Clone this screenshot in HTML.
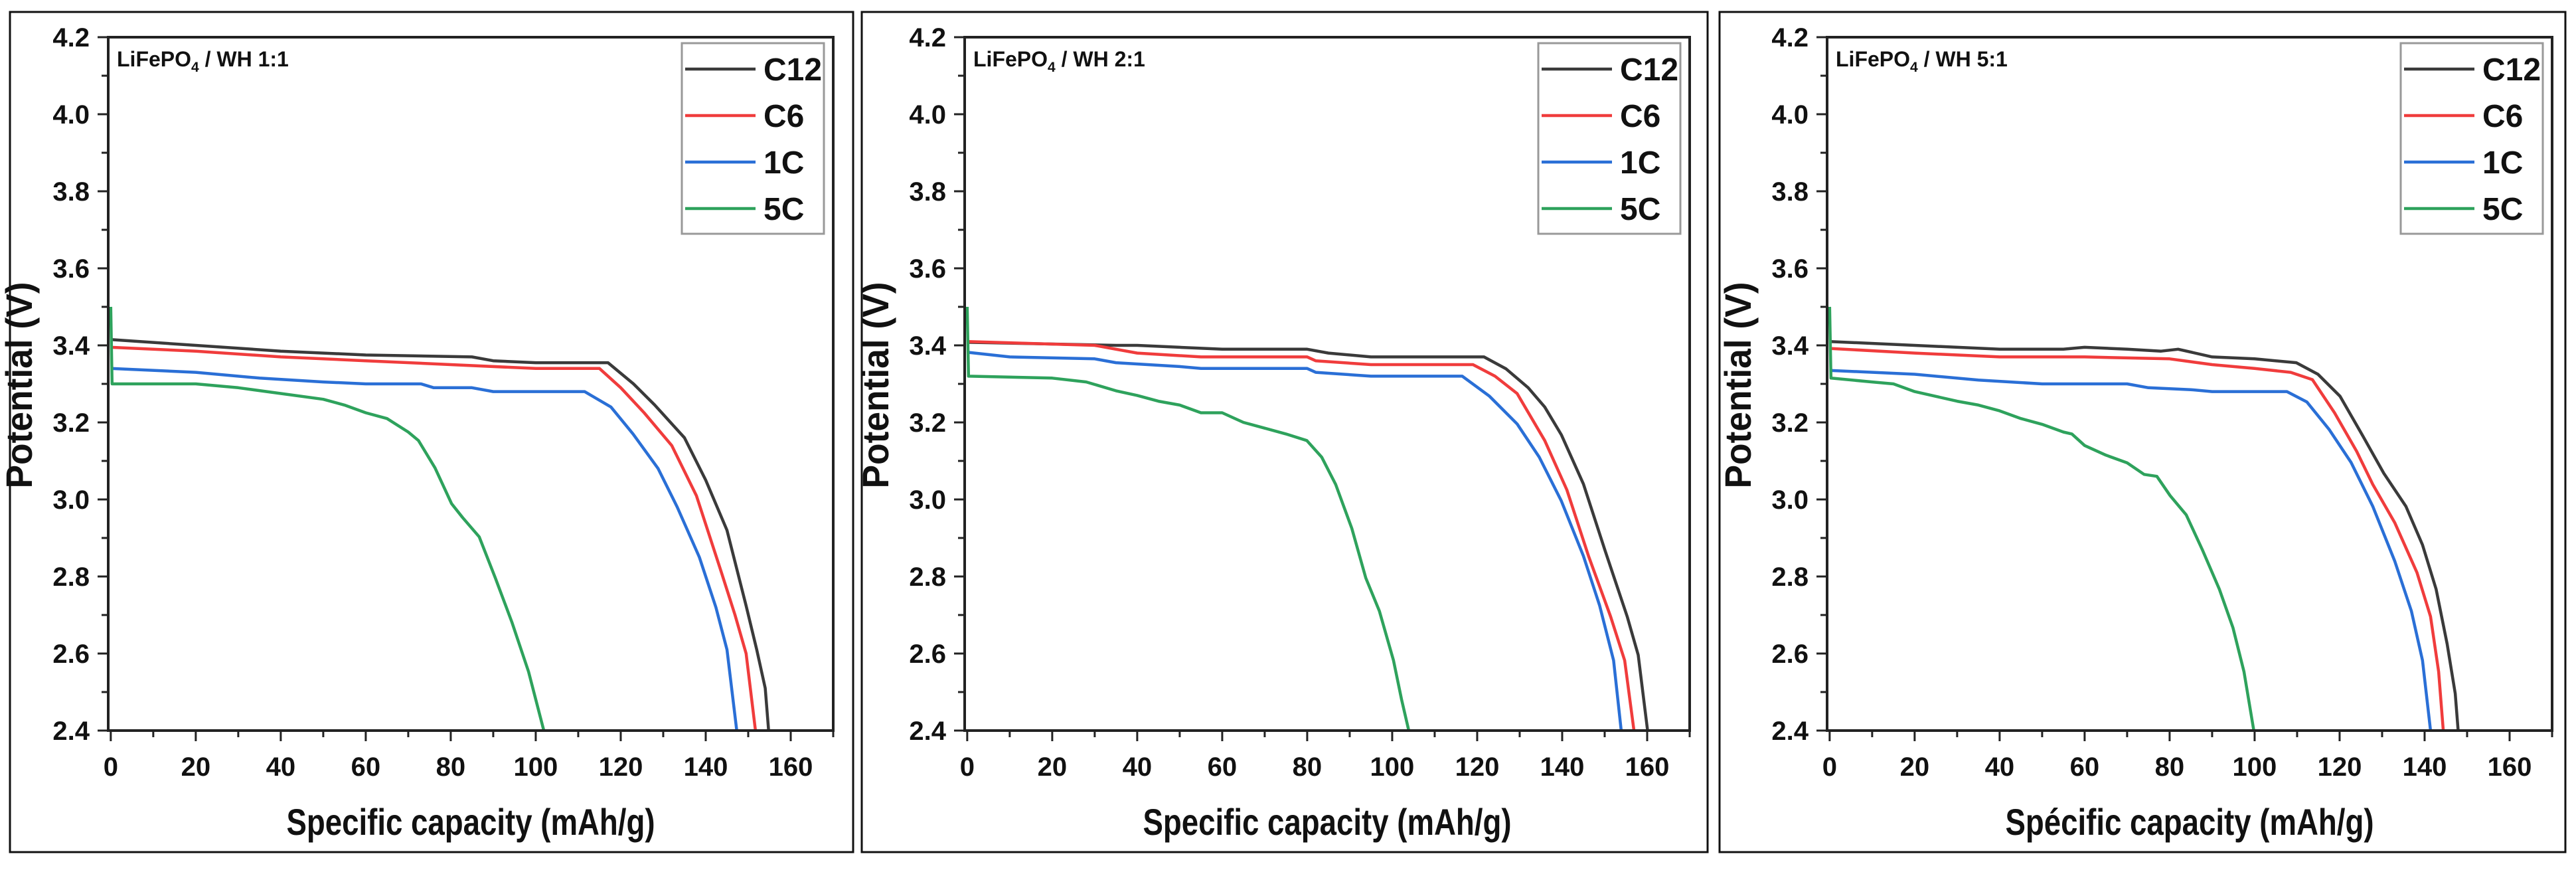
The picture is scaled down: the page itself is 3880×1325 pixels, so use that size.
<!DOCTYPE html>
<html><head><meta charset="utf-8"><style>
html,body{margin:0;padding:0;background:#fff;}
svg{display:block;}
text{font-family:"Liberation Sans",Arial,sans-serif;font-weight:bold;fill:#111;}
</style></head><body>
<svg id="fig" width="3880" height="1325" viewBox="0 0 3880 1325" xmlns="http://www.w3.org/2000/svg"></svg>
<script>
const seriesNames = ["C12","C6","1C","5C"];
const seriesColors = ["#3a3a3a","#f03c3c","#2a6fd6","#2ea25c"];
const xTicks = [0,20,40,60,80,100,120,140,160];
const yTicks = [2.4,2.6,2.8,3.0,3.2,3.4,3.6,3.8,4.0,4.2];
const panelLabels = ["WH 1:1","WH 2:1","WH 5:1"];
const xTitles = ["Specific capacity (mAh/g)","Specific capacity (mAh/g)","Spécific capacity (mAh/g)"];

// panel 1 data [x, V]
const p1_C12 = [[0,3.415],[20,3.40],[40,3.385],[60,3.375],[85,3.37],[90,3.36],[100,3.355],[117,3.355],[123,3.30],[128,3.245],[135,3.16],[140,3.05],[145,2.92],[149.5,2.724],[152,2.61],[154,2.51],[154.8,2.4]];
const p1_C6 = [[0,3.395],[20,3.385],[40,3.37],[60,3.36],[80,3.35],[100,3.34],[115,3.34],[120,3.29],[125.5,3.225],[132,3.14],[137.8,3.01],[143.7,2.81],[146.9,2.70],[149.5,2.60],[151.7,2.4]];
const p1_1C = [[0,3.34],[20,3.33],[35,3.315],[50,3.305],[60,3.30],[73,3.30],[76,3.29],[85,3.29],[90,3.28],[111.5,3.28],[117.7,3.24],[122.9,3.17],[128.8,3.08],[133.3,2.98],[138.5,2.85],[142.4,2.72],[145,2.61],[147.3,2.4]];
const p1_5C = [[0,3.50],[0.3,3.30],[20,3.30],[30,3.29],[40,3.275],[50,3.26],[55,3.245],[60,3.225],[65,3.21],[70,3.175],[72.4,3.153],[76.3,3.082],[80.2,2.989],[82.8,2.953],[86.7,2.903],[90.5,2.796],[94.4,2.681],[98.3,2.553],[101.9,2.4]];
// panel 2
const p2_C12 = [[0,3.408],[35,3.40],[40,3.40],[50,3.395],[60,3.39],[80,3.39],[85,3.38],[95,3.37],[121.6,3.37],[126.8,3.339],[132,3.29],[135.9,3.24],[139.8,3.168],[145,3.04],[150.1,2.867],[155.3,2.696],[157.9,2.596],[160.1,2.4]];
const p2_C6 = [[0,3.41],[30,3.40],[40,3.38],[55,3.37],[80,3.37],[82,3.36],[95,3.35],[119,3.35],[124.2,3.32],[129.4,3.275],[135.9,3.153],[141.1,3.025],[146.2,2.853],[151.4,2.696],[154.7,2.582],[156.9,2.4]];
const p2_1C = [[0,3.382],[10,3.37],[30,3.365],[35,3.355],[50,3.345],[55,3.34],[80,3.34],[82,3.33],[95,3.32],[116.5,3.32],[122.9,3.268],[129.4,3.196],[134.6,3.11],[139.8,2.996],[145,2.853],[148.8,2.725],[152.1,2.582],[153.9,2.4]];
const p2_5C = [[0,3.50],[0.3,3.32],[20,3.315],[28,3.305],[35,3.282],[40,3.27],[45,3.255],[50,3.245],[55,3.225],[60,3.225],[65,3.20],[70,3.185],[75,3.17],[79.9,3.153],[83.4,3.11],[86.7,3.039],[90.5,2.925],[93.8,2.796],[97,2.71],[100.3,2.582],[102.2,2.481],[103.9,2.4]];
// panel 3
const p3_C12 = [[0,3.41],[20,3.40],[40,3.39],[55,3.39],[60,3.395],[70,3.39],[78,3.385],[82,3.39],[90,3.37],[100,3.365],[109.8,3.355],[114.9,3.325],[120.1,3.268],[125.3,3.168],[130.4,3.068],[135.6,2.982],[139.5,2.882],[142.7,2.767],[145.3,2.625],[147.2,2.496],[147.9,2.4]];
const p3_C6 = [[0,3.392],[20,3.38],[40,3.37],[60,3.37],[80,3.365],[90,3.35],[100,3.34],[108.5,3.33],[113.6,3.311],[118.8,3.225],[124,3.125],[127.8,3.039],[133,2.939],[138.2,2.81],[141.4,2.696],[143.3,2.553],[144.4,2.4]];
const p3_1C = [[0,3.335],[20,3.325],[35,3.31],[50,3.30],[70,3.30],[75,3.29],[85,3.285],[90,3.28],[107.6,3.28],[112.3,3.253],[117.5,3.182],[122.7,3.096],[127.8,2.982],[133,2.839],[136.9,2.71],[139.5,2.582],[141.4,2.4]];
const p3_5C = [[0,3.50],[0.3,3.315],[10,3.305],[15,3.30],[20,3.28],[30,3.255],[35,3.245],[40,3.23],[45,3.21],[50,3.195],[55,3.175],[57,3.17],[60,3.14],[65,3.115],[70,3.095],[74,3.065],[77,3.06],[80.1,3.01],[83.9,2.96],[87.8,2.867],[91.7,2.767],[94.9,2.667],[97.5,2.553],[99.8,2.4]];

const panelData = [[p1_C12,p1_C6,p1_1C,p1_5C],[p2_C12,p2_C6,p2_1C,p2_5C],[p3_C12,p3_C6,p3_1C,p3_5C]];

const NS="http://www.w3.org/2000/svg";
const svg=document.getElementById('fig');
function mk(tag,attrs,parent){const e=document.createElementNS(NS,tag);for(const k in attrs)e.setAttribute(k,attrs[k]);(parent||svg).appendChild(e);return e;}

const borders=[[15,1285],[1298,2572],[2590,3864]];
const plots=[163,1453,2752];
const PW=1092, TOP=56, BOT=1100;
const XMIN=-0.6, XMAX=170, YMIN=2.4, YMAX=4.2;

for(let p=0;p<3;p++){
  const L=plots[p];
  const sx=v=>L+(v-XMIN)/(XMAX-XMIN)*PW;
  const sy=v=>BOT-(v-YMIN)/(YMAX-YMIN)*(BOT-TOP);
  const g=mk('g',{});
  
  
  const fr=mk('rect',{x:borders[p][0],y:18,width:borders[p][1]-borders[p][0],height:1265,fill:'none',stroke:'#111','stroke-width':3},g);
  
  
  for(let v=0;v<=170;v+=10){ if(v%20){const t=mk('line',{x1:sx(v),x2:sx(v),y1:BOT,y2:BOT+10,stroke:'#222','stroke-width':3},g);}}
  for(let i=0;i<9;i++){const v=2.5+i*0.2; const t=mk('line',{x1:L-10,x2:L,y1:sy(v),y2:sy(v),stroke:'#222','stroke-width':3},g);}
  xTicks.forEach(v=>{
    const t=mk('line',{x1:sx(v),x2:sx(v),y1:BOT,y2:BOT+16,stroke:'#222','stroke-width':3},g);
    
    
    const tx=mk('text',{x:sx(v),y:BOT+68,'text-anchor':'middle','font-size':40},g);
    tx.textContent=v;
    
    
  });
  yTicks.forEach(v=>{
    const t=mk('line',{x1:L-16,x2:L,y1:sy(v),y2:sy(v),stroke:'#222','stroke-width':3},g);
    
    
    const tx=mk('text',{x:L-28,y:sy(v)+14,'text-anchor':'end','font-size':40},g);
    tx.textContent=v.toFixed(1);
    
    
  });
  const clip=mk('clipPath',{id:'clip'+p},g);
  mk('rect',{x:L,y:TOP,width:PW,height:BOT-TOP},clip);
  panelData[p].forEach((arr,i)=>{
    const d=arr.map((pt,j)=>(j?'L':'M')+sx(pt[0]).toFixed(1)+','+sy(pt[1]).toFixed(1)).join(' ');
    const path=mk('path',{d:d,fill:'none',stroke:seriesColors[i],'stroke-width':4.5,'stroke-linejoin':'round','clip-path':'url(#clip'+p+')'},g);
    
    
  });
  const ax=mk('rect',{x:L,y:TOP,width:PW,height:BOT-TOP,fill:'none',stroke:'#222','stroke-width':4},g);
  
  
  const an=mk('text',{x:L+13,y:100,'font-size':32},g);
  
  
  an.appendChild(document.createTextNode('LiFePO'));
  const sub=mk('tspan',{'font-size':21,dy:8},an); sub.textContent='4';
  const rest=mk('tspan',{dy:-8},an); rest.textContent=' / '+panelLabels[p];
  const lx=L+864, ly=65;
  const lg=mk('g',{},g);
  
  
  mk('rect',{x:lx,y:ly,width:214,height:287,fill:'#fff',stroke:'#999','stroke-width':3},lg);
  seriesNames.forEach((n,i)=>{
    const yy=104+i*70;
    const ll=mk('line',{x1:lx+5,x2:lx+111,y1:yy,y2:yy,stroke:seriesColors[i],'stroke-width':4.5},lg);
    
    
    const lt=mk('text',{x:lx+123,y:yy+17,'font-size':48},lg);
    lt.textContent=n;
    
    
  });
  const xt=mk('text',{x:L+546,y:1257,'text-anchor':'middle','font-size':56,textLength:555,lengthAdjust:'spacingAndGlyphs'},g);
  xt.textContent=xTitles[p];
  
  
  const ytx=L-115, yty=580;
  const yt=mk('text',{x:ytx,y:yty,'text-anchor':'middle','font-size':56,textLength:311,lengthAdjust:'spacingAndGlyphs',transform:'rotate(-90 '+ytx+' '+yty+')'},g);
  yt.textContent='Potential (V)';
  
  
}
</script>
</body></html>
